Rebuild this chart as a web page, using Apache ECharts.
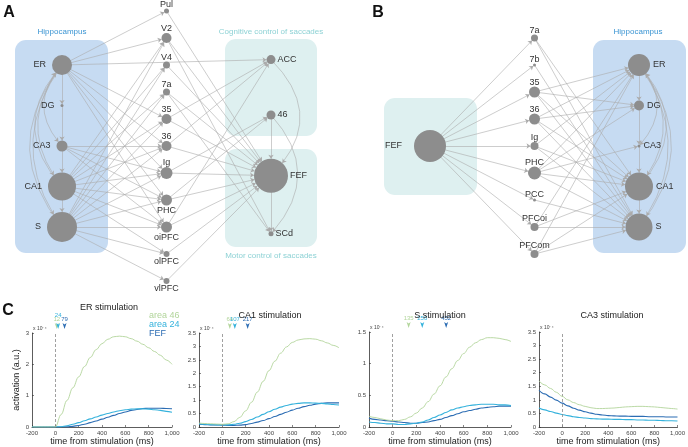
<!DOCTYPE html>
<html><head><meta charset="utf-8">
<script src="https://cdn.jsdelivr.net/npm/echarts@6/dist/echarts.min.js"></script>
<style>html,body{margin:0;padding:0;background:#fff}#c{width:688px;height:447px}</style>
</head><body><div id="c"></div>
<script>
// ---------------- Panel A network ----------------
const aNodes    = ['ER','DG','CA3','CA1','S','Pul','V2','V4','7a','35','36','Ig','PHC','oiPFC','olPFC','vlPFC','ACC','46','FEF','SCd'];
const aColumn   = [0,0,0,0,0, 1,1,1,1,1,1,1,1,1,1,1, 2,2,2,2];
const aRow      = [2,3.5,5,6.5,8, 0,1,2,3,4,5,6,7,8,9,10, 1.8,3.85,6.1,8.25];
const aStrength = [20,3,11,28,30, 5,10,7,7,10,10,12,11,11,6,6, 9,9,34,5];
const aLinks = [
 ['ER','DG'],['DG','CA3'],['CA3','CA1'],['CA1','S'],
 ['ER','Pul'],['ER','V2'],['ER','ACC'],['ER','35'],['ER','36'],['ER','Ig'],['ER','PHC'],['ER','oiPFC'],
 ['CA3','36'],['CA3','Ig'],['CA3','PHC'],['CA3','oiPFC'],
 ['CA1','V2'],['CA1','V4'],['CA1','7a'],['CA1','35'],['CA1','36'],['CA1','Ig'],['CA1','PHC'],['CA1','oiPFC'],['CA1','olPFC'],
 ['S','V2'],['S','V4'],['S','7a'],['S','35'],['S','36'],['S','Ig'],['S','PHC'],['S','oiPFC'],['S','olPFC'],['S','vlPFC'],
 ['Pul','FEF'],['V2','FEF'],['V4','FEF'],['7a','FEF'],['7a','SCd'],['35','FEF'],['35','ACC'],['36','FEF'],['36','ACC'],
 ['Ig','FEF'],['Ig','46'],['PHC','FEF'],['PHC','46'],['oiPFC','FEF'],['oiPFC','ACC'],['olPFC','FEF'],['vlPFC','FEF'],['V2','SCd'],
 ['46','FEF'],['FEF','SCd']
];
const aCurved = [['ER','CA3',-0.45],['ER','CA1',-0.4],['ER','S',-0.36],['CA1','ER',0.45],['S','ER',0.4],['ACC','FEF',0.5],['46','SCd',0.45]];

// ---------------- Panel B network ----------------
const bNodes    = ['FEF','7a','7b','35','36','Ig','PHC','PCC','PFCoi','PFCom','ER','DG','CA3','CA1','S'];
const bColumn   = [0,1,1,1,1,1,1,1,1,1,2,2,2,2,2];
const bRow      = [5,1,2,3,4,5,6,7,8,9,2,3.5,5,6.5,8];
const bStrength = [32,7,3,11,11,8,13,3,8,8,22,10,3,28,27];
const bLinks = [
 ['FEF','7a'],['FEF','7b'],['FEF','35'],['FEF','36'],['FEF','Ig'],['FEF','PHC'],['FEF','PCC'],['FEF','PFCoi'],['FEF','PFCom'],
 ['7a','CA1'],['7a','S'],['7b','S'],
 ['35','ER'],['35','DG'],['35','CA1'],['35','S'],
 ['36','ER'],['36','DG'],['36','CA1'],['36','S'],
 ['Ig','ER'],['Ig','CA1'],['Ig','S'],
 ['PHC','ER'],['PHC','DG'],['PHC','CA3'],['PHC','CA1'],['PHC','S'],
 ['PCC','S'],
 ['PFCoi','ER'],['PFCoi','CA1'],['PFCoi','S'],
 ['PFCom','ER'],['PFCom','CA1'],['PFCom','S'],
 ['ER','DG'],['DG','CA3'],['CA3','CA1'],['CA1','S']
];
const bCurved = [['ER','CA3',0.45],['ER','CA1',0.4],['ER','S',0.36],['CA1','ER',-0.45],['S','ER',-0.4]];

// ---------------- Panel C time courses (x 10^-4) ----------------
const time = [-200,-150,-100,-50,0,50,100,150,200,250,300,350,400,450,500,550,600,650,700,750,800,850,900,950,1000];
const seriesNames = ['area 46','area 24','FEF'];
const panelTitles = ['ER stimulation','CA1 stimulation','S stimulation','CA3 stimulation'];
const yMax = [3, 3.5, 1.5, 3.5];
const yStep = [1, 0.5, 0.5, 0.5];

const erArea46 = [0,0,0,0,0,0.4,0.85,1.25,1.6,1.93,2.22,2.47,2.66,2.8,2.88,2.9,2.88,2.82,2.74,2.64,2.53,2.41,2.29,2.14,2.0];
const erArea24 = [0,0,0,0,0,0.01,0.04,0.09,0.14,0.2,0.26,0.32,0.38,0.43,0.48,0.52,0.55,0.57,0.58,0.58,0.57,0.55,0.53,0.5,0.47];
const erFEF    = [0,0,0,0,0,0,0.005,0.02,0.05,0.09,0.14,0.19,0.25,0.31,0.37,0.43,0.48,0.53,0.56,0.59,0.6,0.6,0.6,0.59,0.58];

const ca1Area46 = [0.15,0.13,0.12,0.11,0.1,0.12,0.2,0.36,0.6,0.92,1.3,1.7,2.1,2.45,2.75,2.98,3.15,3.24,3.28,3.29,3.27,3.21,3.13,3.04,2.95];
const ca1Area24 = [0.12,0.1,0.09,0.08,0.08,0.08,0.1,0.14,0.2,0.28,0.37,0.47,0.57,0.66,0.74,0.8,0.85,0.88,0.9,0.9,0.89,0.88,0.86,0.84,0.82];
const ca1FEF    = [0.1,0.09,0.08,0.075,0.07,0.06,0.06,0.07,0.09,0.13,0.18,0.24,0.31,0.39,0.47,0.55,0.63,0.7,0.76,0.81,0.85,0.88,0.9,0.9,0.9];

const sArea46 = [0.17,0.15,0.13,0.11,0.1,0.1,0.12,0.16,0.22,0.3,0.4,0.52,0.65,0.79,0.92,1.05,1.16,1.26,1.33,1.38,1.41,1.41,1.4,1.38,1.35];
const sArea24 = [0.08,0.07,0.06,0.05,0.05,0.04,0.04,0.05,0.06,0.08,0.11,0.15,0.19,0.23,0.27,0.3,0.32,0.34,0.35,0.36,0.36,0.36,0.35,0.35,0.34];
const sFEF    = [0.14,0.12,0.11,0.1,0.09,0.08,0.07,0.06,0.06,0.07,0.08,0.1,0.12,0.15,0.18,0.21,0.24,0.26,0.28,0.3,0.31,0.32,0.33,0.33,0.33];

const ca3Area46 = [1.7,1.55,1.42,1.28,1.13,1.0,0.9,0.82,0.76,0.71,0.68,0.68,0.69,0.7,0.72,0.74,0.75,0.76,0.76,0.75,0.74,0.72,0.7,0.68,0.66];
const ca3Area24 = [0.7,0.63,0.57,0.51,0.46,0.42,0.38,0.35,0.33,0.31,0.3,0.29,0.29,0.28,0.28,0.27,0.27,0.26,0.26,0.25,0.25,0.24,0.23,0.23,0.22];
const ca3FEF    = [1.35,1.22,1.1,0.99,0.88,0.78,0.69,0.62,0.56,0.51,0.47,0.44,0.42,0.41,0.4,0.4,0.39,0.39,0.39,0.38,0.38,0.38,0.37,0.37,0.37];

const latER  = [12, 24, 79];
const latCA1 = [64, 107, 217];
const latS   = [135, 250, 452];

// ---------------- styling ----------------
const FONT = 'Liberation Sans, Arial, Helvetica, sans-serif';
const colors = ['#b2d59b', '#35b2dc', '#2b6cb3'];
const nodeColor = '#8d8d8d';
const edgeColor = '#ababab';

function buildNodes(names, cols, rows, strength, labelFn) {
  return names.map((n, i) => {
    const lp = labelFn(i, cols[i], rows[i]);
    return { name: n, value: [cols[i], rows[i]], symbolSize: strength[i],
             label: { position: lp[0], distance: lp[1] } };
  });
}
function buildLinks(links, curved) {
  const out = links.map(l => ({ source: l[0], target: l[1] }));
  curved.forEach(c => out.push({ source: c[0], target: c[1], lineStyle: { curveness: c[2] } }));
  return out;
}

const aData = buildNodes(aNodes, aColumn, aRow, aStrength, (i, c, r) => {
  if (c === 0) return ['left', 6];
  if (c === 2) return ['right', 2];
  return r <= 6 ? ['top', 0] : ['bottom', 1];
});
const bData = buildNodes(bNodes, bColumn, bRow, bStrength, (i, c, r) => {
  if (c === 0) return ['left', 12];
  if (c === 2) return ['right', 3];
  return ['top', 0];
});

function graphSeries(idx, data, links) {
  return {
    type: 'graph', coordinateSystem: 'cartesian2d', xAxisIndex: idx, yAxisIndex: idx,
    data: data, links: links, symbol: 'circle',
    edgeSymbol: ['none', 'arrow'], edgeSymbolSize: [0, 4],
    itemStyle: { color: nodeColor },
    lineStyle: { color: edgeColor, width: 0.6, opacity: 1 },
    label: { show: true, fontSize: 9, lineHeight: 8, color: '#333', fontFamily: FONT },
    emphasis: { disabled: true }, silent: true, z: 3
  };
}

const gridsC = [
  { left: 32, top: 333, width: 140, height: 94 },
  { left: 199, top: 333, width: 140, height: 94 },
  { left: 369, top: 332, width: 142, height: 95 },
  { left: 539, top: 332, width: 142, height: 95 }
];

const grids = [
  { left: 62, top: 11, width: 209, height: 270 },
  { left: 430, top: 11, width: 209, height: 270 }
].concat(gridsC);

const xAxes = [
  { gridIndex: 0, type: 'value', min: 0, max: 2, show: false },
  { gridIndex: 1, type: 'value', min: 0, max: 2, show: false }
];
const yAxes = [
  { gridIndex: 0, type: 'value', min: 0, max: 10, inverse: true, show: false },
  { gridIndex: 1, type: 'value', min: 0, max: 10, inverse: true, show: false }
];

function axisCommon() {
  return {
    axisLine: { show: true, onZero: false, lineStyle: { color: '#333', width: 0.8 } },
    axisTick: { show: true, inside: true, length: 2, lineStyle: { color: '#333', width: 0.6 } },
    axisLabel: { fontSize: 6, color: '#444', margin: 3, fontFamily: FONT },
    splitLine: { show: false }
  };
}

for (let k = 0; k < 4; k++) {
  const gi = k + 2;
  xAxes.push(Object.assign(axisCommon(), {
    gridIndex: gi, type: 'value', min: -200, max: 1000, interval: 200,
    name: 'time from stimulation (ms)', nameLocation: 'middle', nameGap: 8,
    nameTextStyle: { fontSize: 9, color: '#222', fontFamily: FONT }
  }));
  yAxes.push(Object.assign(axisCommon(), {
    gridIndex: gi, type: 'value', min: 0, max: yMax[k], interval: yStep[k],
    name: k === 0 ? 'activation (a.u.)' : '',
    nameLocation: 'middle', nameGap: 11,
    nameTextStyle: { fontSize: 9, color: '#222', fontFamily: FONT }
  }));
}

const cData = [
  [erArea46, erArea24, erFEF],
  [ca1Area46, ca1Area24, ca1FEF],
  [sArea46, sArea24, sFEF],
  [ca3Area46, ca3Area24, ca3FEF]
];
const cLat = [latER, latCA1, latS, null];

const series = [graphSeries(0, aData, buildLinks(aLinks, aCurved)), graphSeries(1, bData, buildLinks(bLinks, bCurved))];

for (let k = 0; k < 4; k++) {
  for (let s = 0; s < 3; s++) {
    const ser = {
      type: 'line', name: seriesNames[s], xAxisIndex: k + 2, yAxisIndex: k + 2,
      data: time.map((t, i) => [t, cData[k][s][i]]),
      showSymbol: false, smooth: 0.4, smoothMonotone: 'x',
      lineStyle: { color: colors[s], width: s === 0 ? 0.9 : 1.1 },
      itemStyle: { color: colors[s] },
      silent: true, z: 5 - s
    };
    if (s === 0) {
      ser.markLine = {
        silent: true, symbol: ['none', 'none'], label: { show: false },
        lineStyle: { type: [3, 2], color: '#888', width: 0.8 },
        data: [{ xAxis: 0 }]
      };
    }
    if (cLat[k]) {
      const stackUp = (k === 0 && s === 1) ? 5 : 1;
      ser.markPoint = {
        silent: true, symbol: 'arrow', symbolRotate: 180, symbolSize: [3, 6], symbolOffset: [0, -4],
        itemStyle: { color: colors[s] },
        label: { show: true, position: 'top', distance: stackUp, fontSize: 6, color: colors[s], fontFamily: FONT, formatter: '{c}' },
        data: [{ coord: [cLat[k][s], yMax[k]], value: cLat[k][s] }]
      };
    }
    series.push(ser);
  }
}

// ---------------- decorations ----------------
function txt(x, y, text, size, color, extra) {
  return Object.assign({ type: 'text', x: x, y: y, z: 10, silent: true,
    style: Object.assign({ text: text, fontSize: size, fill: color, fontFamily: FONT, align: 'center', verticalAlign: 'middle' }, extra || {}) });
}
function box(x, y, w, h, fill) {
  return { type: 'rect', shape: { x: x, y: y, width: w, height: h, r: 11 }, style: { fill: fill }, z: -10, silent: true };
}
const hippoFill = '#c6dbf2', tealFill = '#def0f0';
const hippoText = '#3b95d3', tealText = '#8ed2d5';

const graphic = [
  box(15, 40, 93, 213, hippoFill),
  box(225, 39, 92, 97, tealFill),
  box(225, 149, 92, 98, tealFill),
  box(384, 98, 93, 97, tealFill),
  box(593, 40, 93, 213, hippoFill),
  txt(9, 13, 'A', 16, '#111', { fontWeight: 'bold' }),
  txt(378, 13, 'B', 16, '#111', { fontWeight: 'bold' }),
  txt(8, 311, 'C', 16, '#111', { fontWeight: 'bold' }),
  txt(62, 32, 'Hippocampus', 8, hippoText),
  txt(638, 32, 'Hippocampus', 8, hippoText),
  txt(271, 32, 'Cognitive control of saccades', 8, tealText),
  txt(271, 256, 'Motor control of saccades', 8, tealText),
  txt(109, 308, panelTitles[0], 9, '#222'),
  txt(270, 316, panelTitles[1], 9, '#222'),
  txt(440, 316, panelTitles[2], 9, '#222'),
  txt(612, 316, panelTitles[3], 9, '#222')
];
gridsC.forEach(g => graphic.push(txt(g.left + 1, g.top - 4, 'x 10\u207B\u2074', 5, '#444', { align: 'left' })));

const chart = echarts.init(document.getElementById('c'), null, { renderer: 'canvas' });
chart.setOption({
  animation: false,
  backgroundColor: '#fff',
  textStyle: { fontFamily: FONT },
  grid: grids,
  xAxis: xAxes,
  yAxis: yAxes,
  legend: {
    left: 144, top: 311, orient: 'vertical', itemWidth: 0, itemHeight: 0, itemGap: 0, padding: 0,
    selectedMode: false,
    textStyle: { fontSize: 9, lineHeight: 8, fontFamily: FONT },
    data: seriesNames.map((n, i) => ({ name: n, icon: 'none', textStyle: { color: colors[i] } }))
  },
  graphic: graphic,
  series: series
});
</script></body></html>
